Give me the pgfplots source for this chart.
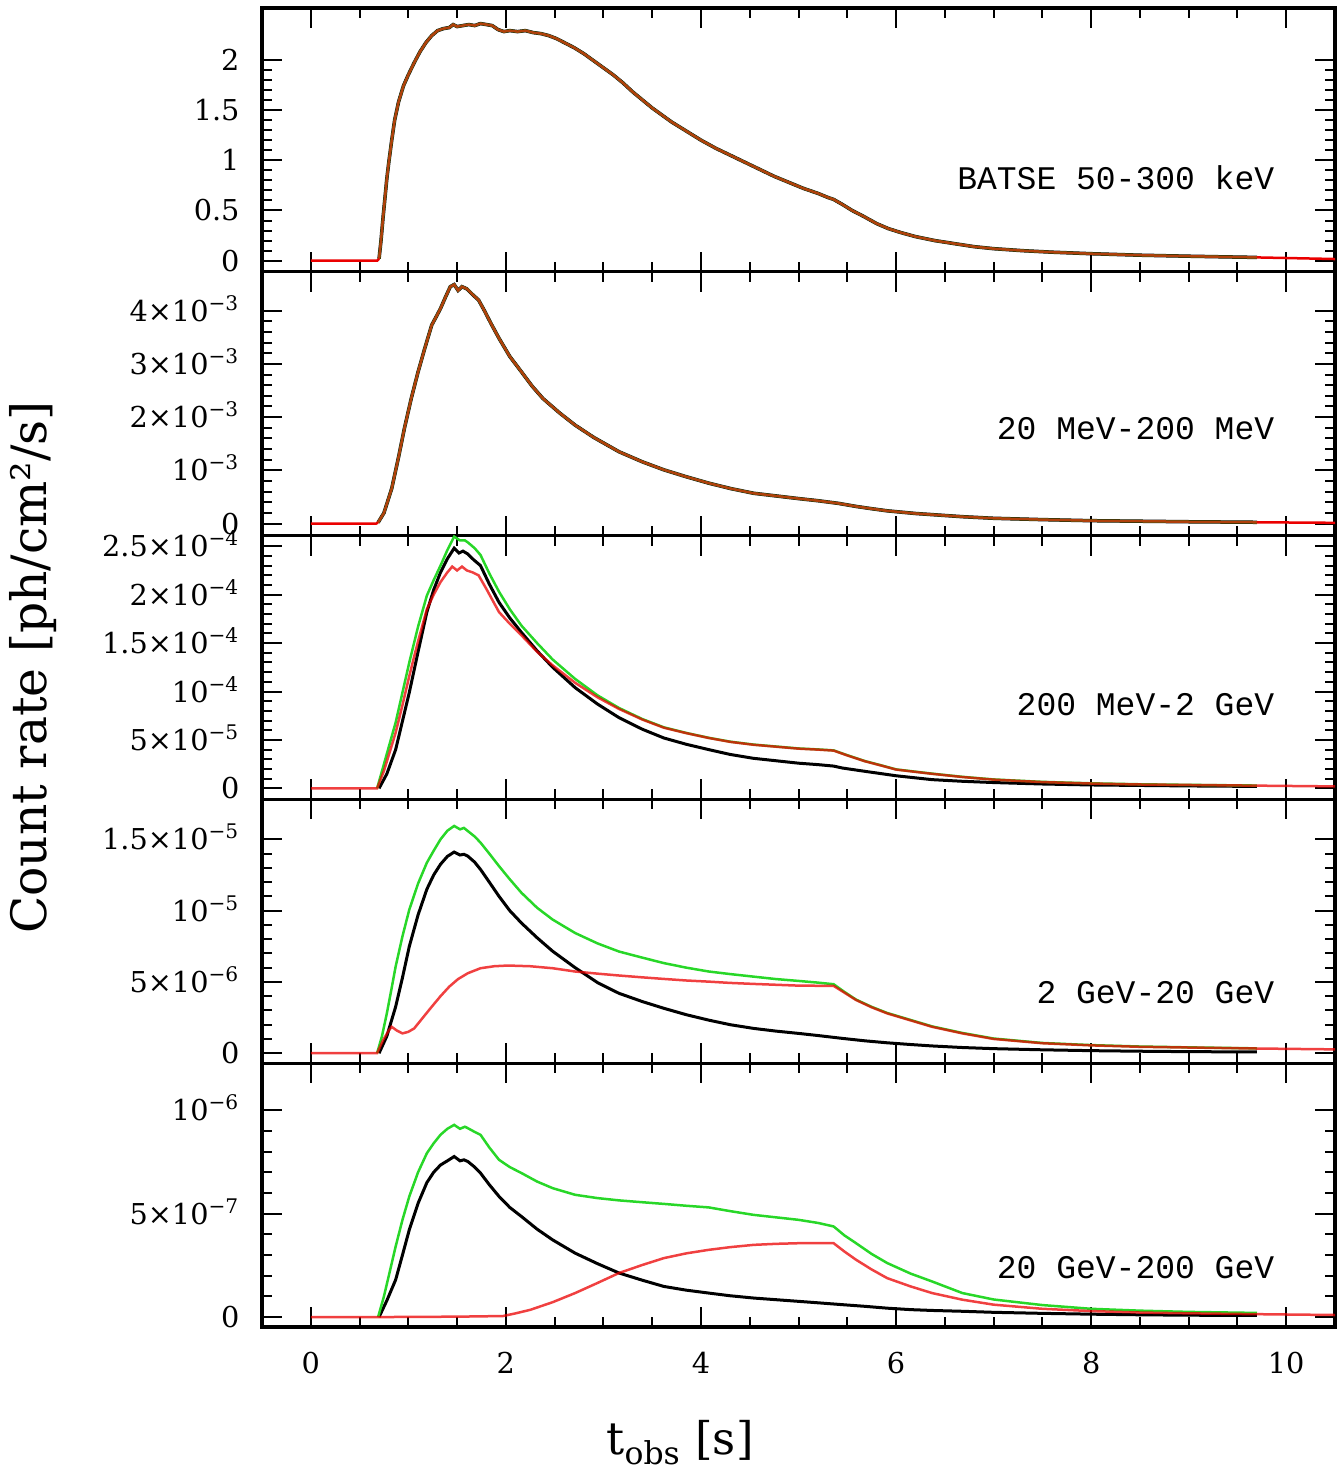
\documentclass[border=0pt]{standalone}
\usepackage{fontspec}
\setmainfont{DejaVu Serif}
\newfontfamily\monof{Liberation Mono}
\usepackage{pgfplots}
\pgfplotsset{compat=1.18}
\usepgfplotslibrary{groupplots}
\definecolor{cgreen}{RGB}{40,215,40}
\definecolor{cred}{RGB}{235,0,0}
\newcommand{\tn}[1]{10\textsuperscript{−#1}}

\pgfplotstableread{
x y
0.70 0.02
0.72 0.2
0.74 0.42
0.76 0.62
0.78 0.82
0.80 0.98
0.83 1.2
0.86 1.4
0.90 1.58
0.95 1.74
1.00 1.85
1.06 1.97
1.12 2.08
1.18 2.17
1.24 2.24
1.30 2.29
1.36 2.31
1.42 2.32
1.46 2.35
1.50 2.33
1.56 2.34
1.62 2.35
1.68 2.34
1.74 2.36
1.80 2.35
1.86 2.34
1.92 2.30
1.98 2.28
2.04 2.29
2.12 2.28
2.20 2.29
2.28 2.27
2.36 2.26
2.44 2.24
2.52 2.21
2.60 2.17
2.70 2.12
2.80 2.06
2.90 1.99
3.00 1.92
3.10 1.85
3.20 1.77
3.30 1.68
3.40 1.60
3.50 1.52
3.60 1.45
3.70 1.38
3.80 1.32
3.90 1.26
4.00 1.20
4.15 1.12
4.30 1.05
4.45 0.98
4.60 0.91
4.75 0.84
4.90 0.78
5.05 0.72
5.20 0.67
5.30 0.63
5.36 0.61
5.45 0.56
5.55 0.50
5.67 0.44
5.80 0.37
5.92 0.32
6.05 0.28
6.20 0.24
6.40 0.20
6.60 0.17
6.80 0.14
7.00 0.12
7.30 0.10
7.60 0.085
8.00 0.07
8.50 0.055
9.00 0.045
9.40 0.038
9.70 0.033
}\pone
\pgfplotstableread{
x y
0 0
0.68 0
0.70 0.02
}\ponehead
\pgfplotstableread{
x y
9.70 0.033
10.0 0.027
10.25 0.022
10.5 0.017
}\ponetail

\pgfplotstableread{
x y
0.69 0.02
0.75 0.2
0.83 0.66
0.90 1.25
0.96 1.79
1.03 2.35
1.10 2.85
1.17 3.3
1.24 3.73
1.29 3.9
1.33 4.04
1.38 4.25
1.43 4.45
1.47 4.49
1.51 4.38
1.55 4.45
1.60 4.41
1.66 4.3
1.72 4.2
1.78 4.0
1.85 3.75
1.93 3.48
2.04 3.14
2.16 2.85
2.27 2.58
2.38 2.35
2.55 2.08
2.71 1.85
2.90 1.62
3.16 1.35
3.40 1.16
3.62 1.01
3.85 0.88
4.08 0.76
4.30 0.66
4.54 0.57
4.77 0.52
5.00 0.47
5.20 0.43
5.41 0.38
5.60 0.32
5.75 0.28
5.91 0.24
6.20 0.19
6.68 0.13
7.00 0.10
7.50 0.075
8.00 0.055
8.50 0.045
9.00 0.035
9.70 0.025
}\ptwo
\pgfplotstableread{
x y
0 0
0.67 0
0.69 0.02
}\ptwohead
\pgfplotstableread{
x y
9.7 0.025
10.1 0.02
10.5 0.015
}\ptwotail

\pgfplotstableread{
x y
0 0
0.68 0
0.75 1.8
0.87 5.74
0.94 8.6
1.01 11.6
1.10 15.2
1.19 18.5
1.26 20.0
1.33 21.3
1.40 22.3
1.45 22.9
1.50 22.5
1.55 22.9
1.60 22.5
1.66 22.3
1.72 22.0
1.80 20.6
1.87 19.3
1.93 18.2
2.04 17.0
2.16 15.8
2.32 14.1
2.48 12.7
2.71 10.9
2.94 9.4
3.16 8.2
3.40 7.1
3.62 6.26
3.85 5.7
4.08 5.2
4.30 4.8
4.54 4.5
4.77 4.3
5.00 4.1
5.20 4.0
5.36 3.9
5.50 3.4
5.68 2.8
5.85 2.35
6.00 1.94
6.20 1.7
6.37 1.5
6.68 1.17
7.00 0.9
7.50 0.65
8.00 0.5
8.50 0.4
9.00 0.35
9.70 0.28
10.50 0.2
}\pthreer
\pgfplotstableread{
x y
0.68 0
0.75 2.5
0.87 6.8
1.01 13.0
1.10 16.7
1.19 19.9
1.26 21.5
1.33 23.0
1.40 24.6
1.47 26.0
1.53 25.6
1.58 25.6
1.61 25.4
1.68 24.8
1.74 24.1
1.83 22.2
1.93 20.3
2.04 18.5
2.16 16.8
2.32 15.0
2.48 13.3
2.71 11.3
2.94 9.6
3.16 8.3
3.40 7.15
3.62 6.3
3.85 5.72
4.08 5.22
4.30 4.82
4.54 4.52
4.77 4.32
5.00 4.12
5.20 4.02
5.36 3.92
5.50 3.42
5.68 2.82
5.85 2.37
6.00 1.96
6.20 1.72
6.37 1.52
6.68 1.19
7.00 0.92
7.50 0.67
8.00 0.52
8.50 0.42
9.00 0.36
9.70 0.29
}\pthreeg
\pgfplotstableread{
x y
0.70 0
0.78 1.5
0.87 4.0
1.01 9.9
1.10 14.1
1.19 18.2
1.26 20.5
1.33 22.3
1.40 23.7
1.47 24.8
1.52 24.3
1.56 24.5
1.61 24.2
1.67 23.6
1.74 23.0
1.83 21.1
1.93 19.2
2.04 17.6
2.16 16.1
2.32 14.2
2.48 12.5
2.71 10.4
2.94 8.7
3.16 7.3
3.40 6.1
3.62 5.2
3.85 4.55
4.08 4.0
4.30 3.5
4.54 3.1
4.77 2.85
5.00 2.6
5.20 2.45
5.36 2.3
5.45 2.1
5.68 1.76
6.00 1.3
6.37 0.9
6.68 0.73
7.00 0.6
7.50 0.45
8.00 0.35
8.50 0.3
9.00 0.25
9.70 0.2
}\pthreek

\pgfplotstableread{
x y
0 0
0.68 0
0.74 0.9
0.80 1.6
0.83 1.85
0.88 1.6
0.94 1.39
1.00 1.5
1.06 1.74
1.15 2.5
1.24 3.26
1.33 4.0
1.42 4.67
1.51 5.2
1.61 5.61
1.74 5.96
1.88 6.1
2.02 6.15
2.25 6.1
2.48 5.96
2.71 5.73
2.94 5.58
3.16 5.45
3.40 5.32
3.62 5.21
3.85 5.1
4.08 5.02
4.30 4.93
4.54 4.86
4.77 4.8
5.00 4.74
5.20 4.73
5.36 4.72
5.47 4.25
5.59 3.73
5.75 3.22
5.91 2.79
6.15 2.3
6.37 1.85
6.68 1.39
7.00 1.0
7.50 0.7
8.00 0.55
8.50 0.45
9.00 0.4
9.70 0.33
10.50 0.27
}\pfourr
\pgfplotstableread{
x y
0.68 0
0.73 1.2
0.78 2.8
0.83 4.6
0.87 6.08
0.94 8.2
1.01 10.07
1.10 11.9
1.19 13.36
1.26 14.2
1.33 15.0
1.40 15.6
1.47 15.94
1.53 15.7
1.57 15.8
1.61 15.58
1.68 15.2
1.74 14.77
1.83 14.0
1.93 13.12
2.04 12.2
2.16 11.25
2.32 10.2
2.48 9.37
2.71 8.43
2.94 7.7
3.16 7.13
3.40 6.7
3.62 6.32
3.85 6.0
4.08 5.73
4.30 5.55
4.54 5.37
4.77 5.2
5.00 5.07
5.20 4.95
5.36 4.84
5.47 4.3
5.59 3.76
5.75 3.25
5.91 2.82
6.15 2.33
6.37 1.88
6.68 1.42
7.00 1.03
7.50 0.72
8.00 0.57
8.50 0.47
9.00 0.41
9.70 0.34
}\pfourg
\pgfplotstableread{
x y
0.70 0
0.78 1.2
0.87 3.26
0.94 5.3
1.01 7.49
1.10 9.7
1.19 11.5
1.26 12.5
1.33 13.25
1.40 13.8
1.47 14.11
1.53 13.9
1.57 13.95
1.61 13.82
1.68 13.4
1.74 12.89
1.83 12.0
1.93 11.0
2.04 10.0
2.16 9.13
2.32 8.1
2.48 7.15
2.71 6.0
2.94 4.95
3.16 4.2
3.40 3.62
3.62 3.15
3.85 2.7
4.08 2.32
4.30 2.0
4.54 1.74
4.77 1.55
5.00 1.39
5.20 1.24
5.45 1.04
5.68 0.87
5.91 0.73
6.15 0.61
6.37 0.51
6.68 0.4
7.00 0.32
7.50 0.24
8.00 0.18
8.50 0.14
9.00 0.11
9.70 0.09
}\pfourk

\pgfplotstableread{
x y
0 0
0.70 0
1.50 0.02
1.97 0.05
2.10 0.18
2.25 0.35
2.48 0.72
2.71 1.16
2.94 1.65
3.16 2.13
3.40 2.52
3.62 2.85
3.85 3.08
4.08 3.25
4.30 3.38
4.54 3.49
4.77 3.54
5.00 3.57
5.20 3.58
5.36 3.57
5.47 3.17
5.59 2.77
5.75 2.3
5.91 1.88
6.15 1.48
6.37 1.16
6.68 0.84
7.00 0.6
7.50 0.4
8.00 0.29
8.50 0.22
9.00 0.18
9.70 0.14
10.50 0.1
}\pfiver
\pgfplotstableread{
x y
0.69 0
0.75 1.0
0.80 2.0
0.87 3.41
0.94 4.7
1.01 5.83
1.10 7.0
1.19 7.92
1.26 8.4
1.33 8.81
1.40 9.1
1.47 9.29
1.53 9.1
1.58 9.2
1.61 9.13
1.68 8.95
1.74 8.81
1.83 8.2
1.93 7.6
2.04 7.25
2.16 6.96
2.32 6.55
2.48 6.23
2.71 5.91
2.94 5.75
3.16 5.64
3.40 5.55
3.62 5.47
3.85 5.38
4.08 5.3
4.30 5.12
4.54 4.94
4.77 4.82
5.00 4.7
5.20 4.55
5.36 4.38
5.47 3.95
5.59 3.57
5.75 3.05
5.91 2.61
6.15 2.1
6.37 1.72
6.68 1.16
7.00 0.85
7.50 0.58
8.00 0.4
8.50 0.31
9.00 0.25
9.70 0.2
}\pfiveg
\pgfplotstableread{
x y
0.70 0
0.78 0.8
0.87 1.8
0.94 3.0
1.01 4.22
1.10 5.5
1.19 6.5
1.26 7.0
1.33 7.35
1.40 7.55
1.47 7.76
1.53 7.55
1.57 7.6
1.61 7.52
1.68 7.25
1.74 6.96
1.83 6.4
1.93 5.83
2.04 5.3
2.16 4.86
2.32 4.25
2.48 3.73
2.71 3.09
2.94 2.58
3.16 2.13
3.40 1.78
3.62 1.48
3.85 1.3
4.08 1.16
4.30 1.03
4.54 0.92
4.77 0.84
5.00 0.76
5.20 0.69
5.45 0.6
5.68 0.52
5.91 0.43
6.15 0.36
6.37 0.32
6.68 0.28
7.00 0.23
7.50 0.18
8.00 0.14
8.50 0.11
9.00 0.09
9.70 0.08
}\pfivek

\begin{document}
\begin{tikzpicture}
\begin{groupplot}[
  group style={group size=1 by 5, vertical sep=0pt, xticklabels at=edge bottom},
  width=429.2pt, height=105.52pt, scale only axis,
  xmin=-0.5, xmax=10.5,
  xtick={0,2,4,6,8,10}, xticklabels={0,2,4,6,8,10},
  minor x tick num=3, minor y tick num=4,
  axis line style={line width=1.3pt},
  every major tick/.append style={line width=0.8pt, black},
  every minor tick/.append style={line width=0.8pt, black},
  major tick length=8pt, minor tick length=4pt,
  tick label style={font=\fontsize{11.5}{13}\selectfont},
  yticklabel style={anchor=base east, inner sep=0pt, xshift=-8.8pt, yshift=-4.2pt},
  xticklabel style={anchor=north, inner sep=0pt, yshift=-10pt},
  every axis plot/.append style={line width=1pt},
  clip=true,
]
% Panel 1
\nextgroupplot[ymin=-0.11, ymax=2.515, ytick={0,0.5,1,1.5,2}, yticklabels={0,0.5,1,1.5,2}]
\coordinate (TL) at (rel axis cs:0,1);
\addplot[black, line width=1.4pt] table {\pone};
\addplot[cgreen] table {\pone};
\addplot[cred, opacity=0.7] table {\pone};
\addplot[cred] table {\ponehead};
\addplot[cred] table {\ponetail};
\node[anchor=east, font=\monof\fontsize{13.2}{15}\selectfont] at (rel axis cs:0.9515,0.358) {BATSE 50-300 keV};
% Panel 2
\nextgroupplot[ymin=-0.225, ymax=4.73, ytick={0,1,2,3,4},
  yticklabels={0,\tn{3},2×\tn{3},3×\tn{3},4×\tn{3}}]
\addplot[black, line width=1.4pt] table {\ptwo};
\addplot[cgreen] table {\ptwo};
\addplot[cred, opacity=0.7] table {\ptwo};
\addplot[cred] table {\ptwohead};
\addplot[cred] table {\ptwotail};
\node[anchor=east, font=\monof\fontsize{13.2}{15}\selectfont] at (rel axis cs:0.9515,0.405) {20 MeV-200 MeV};
% Panel 3
\nextgroupplot[ymin=-1.14, ymax=26.1, ytick={0,5,10,15,20,25},
  yticklabels={0,5×\tn{5},\tn{4},1.5×\tn{4},2×\tn{4},2.5×\tn{4}},
  ylabel={Count rate [ph/cm²/s]},
  ylabel style={at={(rel axis cs:-0.2004,0.5)}, anchor=base, rotate=0, font=\fontsize{19.5}{22}\selectfont}]
\addplot[black, line width=1.2pt] table {\pthreek};
\addplot[cgreen] table {\pthreeg};
\addplot[cred, opacity=0.75] table {\pthreer};
\node[anchor=east, font=\monof\fontsize{13.2}{15}\selectfont] at (rel axis cs:0.9515,0.361) {200 MeV-2 GeV};
% Panel 4
\nextgroupplot[ymin=-0.7, ymax=17.8, ytick={0,5,10,15},
  yticklabels={0,5×\tn{6},\tn{5},1.5×\tn{5}}]
\addplot[black, line width=1.2pt] table {\pfourk};
\addplot[cgreen] table {\pfourg};
\addplot[cred, opacity=0.75] table {\pfourr};
\node[anchor=east, font=\monof\fontsize{13.2}{15}\selectfont] at (rel axis cs:0.9515,0.266) {2 GeV-20 GeV};
% Panel 5
\nextgroupplot[ymin=-0.48, ymax=12.27, ytick={0,5,10},
  yticklabels={0,5×\tn{7},\tn{6}},
  xlabel={t\textsubscript{obs} [s]},
  xlabel style={at={(rel axis cs:0.3896,-0.485)}, anchor=base, font=\fontsize{18}{20}\selectfont}]
\coordinate (BR) at (rel axis cs:1,0);
\addplot[black, line width=1.2pt] table {\pfivek};
\addplot[cgreen] table {\pfiveg};
\addplot[cred, opacity=0.75] table {\pfiver};
\node[anchor=east, font=\monof\fontsize{13.2}{15}\selectfont] at (rel axis cs:0.9515,0.227) {20 GeV-200 GeV};
\end{groupplot}
\pgfresetboundingbox
\path ([shift={(-104.8pt,3.2pt)}]TL) rectangle ([shift={(1.6pt,-58.8pt)}]BR);
\end{tikzpicture}
\end{document}
